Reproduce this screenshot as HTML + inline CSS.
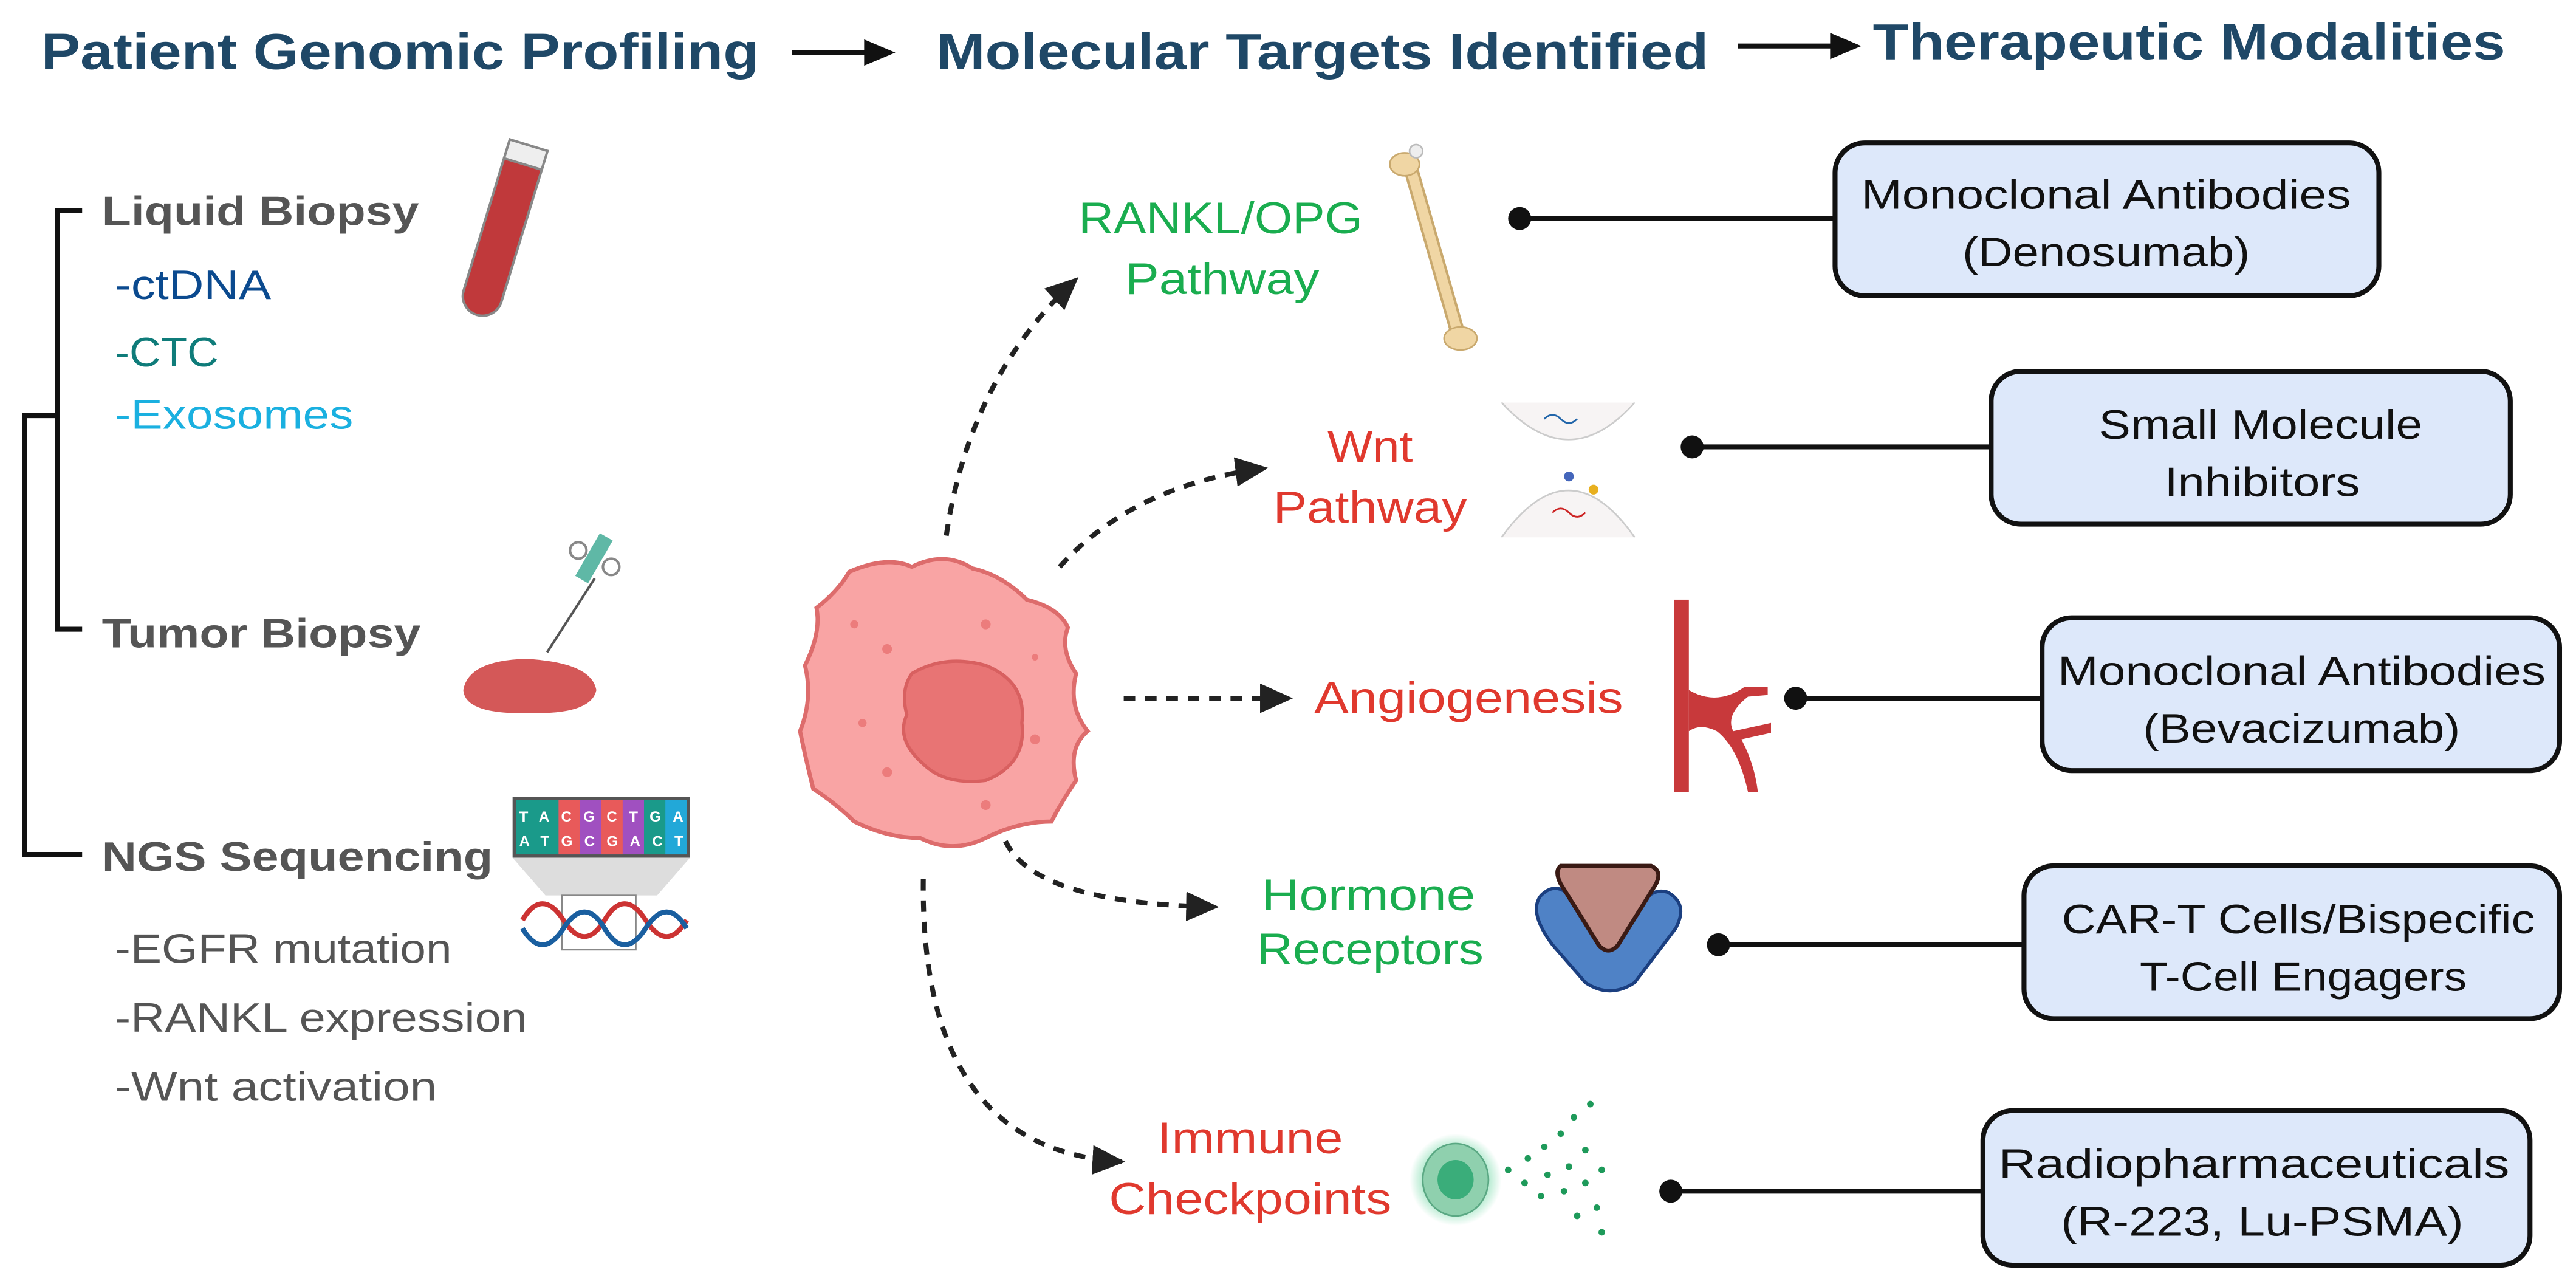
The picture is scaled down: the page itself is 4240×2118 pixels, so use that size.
<!DOCTYPE html>
<html><head><meta charset="utf-8"><style>
html,body{margin:0;padding:0;background:#fff;}
svg{display:block;}
text{font-family:"Liberation Sans",sans-serif;}
</style></head><body>
<svg width="4240" height="2118" viewBox="0 0 1568 783.3" preserveAspectRatio="none" xmlns="http://www.w3.org/2000/svg">
<defs>
<marker id="ah2" markerWidth="20" markerHeight="18" refX="18" refY="9" orient="auto" markerUnits="userSpaceOnUse"><path d="M0,0 L20,9 L0,18 Z" fill="#222"/></marker>
<radialGradient id="glow"><stop offset="0.5" stop-color="#5fd39a" stop-opacity="0.8"/><stop offset="1" stop-color="#5fd39a" stop-opacity="0"/></radialGradient>
</defs>
<!-- titles -->
<g font-weight="bold" font-size="31" fill="#1f4867" lengthAdjust="spacingAndGlyphs">
<text x="25" y="42" textLength="437" lengthAdjust="spacingAndGlyphs">Patient Genomic Profiling</text>
<text x="570" y="42" textLength="470" lengthAdjust="spacingAndGlyphs">Molecular Targets Identified</text>
<text x="1140" y="36" textLength="385" lengthAdjust="spacingAndGlyphs">Therapeutic Modalities</text>
</g>
<line x1="482" y1="32" x2="528" y2="32" stroke="#111" stroke-width="3"/><path d="M526,24 L545,32 L526,40Z" fill="#111"/>
<line x1="1058" y1="28" x2="1116" y2="28" stroke="#111" stroke-width="3"/><path d="M1114,20 L1133,28 L1114,36Z" fill="#111"/>
<!-- bracket -->
<g stroke="#111" stroke-width="3" fill="none">
<path d="M50,128 H35 V383 H50"/>
<path d="M35,253 H15 V520 H50"/>
</g>
<g font-size="25">
<text x="62" y="137" font-weight="bold" fill="#555" textLength="193" lengthAdjust="spacingAndGlyphs">Liquid Biopsy</text>
<text x="70" y="182" fill="#0b4a8f" textLength="95" lengthAdjust="spacingAndGlyphs">-ctDNA</text>
<text x="70" y="223" fill="#0f7c7a" textLength="63" lengthAdjust="spacingAndGlyphs">-CTC</text>
<text x="70" y="261" fill="#1ab0e0" textLength="145" lengthAdjust="spacingAndGlyphs">-Exosomes</text>
<text x="62" y="394" font-weight="bold" fill="#555" textLength="194" lengthAdjust="spacingAndGlyphs">Tumor Biopsy</text>
<text x="62" y="530" font-weight="bold" fill="#555" textLength="238" lengthAdjust="spacingAndGlyphs">NGS Sequencing</text>
<text x="70" y="586" fill="#555" textLength="205" lengthAdjust="spacingAndGlyphs">-EGFR mutation</text>
<text x="70" y="628" fill="#555" textLength="251" lengthAdjust="spacingAndGlyphs">-RANKL expression</text>
<text x="70" y="670" fill="#555" textLength="196" lengthAdjust="spacingAndGlyphs">-Wnt activation</text>
</g>
<!-- tube -->
<g transform="rotate(17 306 140)">
<rect x="294" y="86" width="24" height="108" rx="12" fill="#c0393b" stroke="#888" stroke-width="1.5"/>
<rect x="294" y="86" width="24" height="12" fill="#eee" stroke="#888" stroke-width="1.5"/>
</g>
<!-- syringe + tissue -->
<line x1="333" y1="397" x2="362" y2="352" stroke="#555" stroke-width="1.5"/>
<rect x="357" y="325" width="9" height="30" fill="#5fb8a6" transform="rotate(30 362 340)"/>
<circle cx="352" cy="335" r="5" fill="none" stroke="#888" stroke-width="1.5"/>
<circle cx="372" cy="345" r="5" fill="none" stroke="#888" stroke-width="1.5"/>
<path d="M282,420 Q285,402 320,401 Q360,403 363,420 Q360,435 322,434 Q283,435 282,420Z" fill="#d45858"/>
<!-- DNA -->
<rect x="312" y="485" width="108" height="37" fill="#555"/>
<g font-size="9" fill="#fff" font-weight="bold">
<rect x="314" y="487" width="104" height="33" fill="#1a9a8a"/>
<rect x="340" y="487" width="52" height="33" fill="#a050c0"/>
<rect x="340" y="487" width="13" height="33" fill="#e85a5a"/>
<rect x="366" y="487" width="13" height="33" fill="#e85a5a"/>
<rect x="405" y="487" width="13" height="33" fill="#22a8d8"/>
<text x="316" y="500" textLength="100" lengthAdjust="spacing">TACGCTGA</text><text x="316" y="515" textLength="100" lengthAdjust="spacing">ATGCGACT</text>
</g>
<path d="M312,522 L420,522 L400,545 L332,545Z" fill="#ddd"/>
<rect x="342" y="545" width="45" height="33" fill="none" stroke="#888"/>
<path d="M318,560 q12,-20 25,0 t25,0 t25,0 t25,0" fill="none" stroke="#c33" stroke-width="3"/>
<path d="M318,565 q12,20 25,0 t25,0 t25,0 t25,0" fill="none" stroke="#1a5fa0" stroke-width="3"/>
<!-- cell -->
<path d="M517,348 Q540,338 555,345 Q575,335 592,346 Q610,350 625,365 Q645,370 650,382 Q645,395 655,410 Q650,430 662,445 Q650,455 655,475 Q645,490 640,500 Q620,500 600,510 Q580,520 560,510 Q540,510 520,500 Q510,490 495,480 Q490,460 487,445 Q495,425 490,405 Q500,385 497,370 Q510,360 517,348Z" fill="#f9a4a4" stroke="#dd6c6c" stroke-width="2.5"/>
<path d="M555,410 Q575,398 600,405 Q625,415 622,440 Q625,465 600,475 Q575,478 562,465 Q545,450 552,435 Q548,420 555,410Z" fill="#e87474" stroke="#d86060" stroke-width="2"/>
<g fill="#ec7c7c"><circle cx="520" cy="380" r="2.5"/><circle cx="540" cy="395" r="3"/><circle cx="600" cy="380" r="3"/><circle cx="630" cy="450" r="3"/><circle cx="525" cy="440" r="2.5"/><circle cx="540" cy="470" r="3"/><circle cx="600" cy="490" r="3"/><circle cx="630" cy="400" r="2"/></g>
<!-- dashed arrows -->
<g fill="none" stroke="#222" stroke-width="3" stroke-dasharray="7,6">
<path d="M576,326 Q590,230 655,170" marker-end="url(#ah2)"/>
<path d="M645,345 Q690,295 770,285" marker-end="url(#ah2)"/>
<path d="M684,425 L785,425" marker-end="url(#ah2)"/>
<path d="M612,512 Q630,550 740,552" marker-end="url(#ah2)"/>
<path d="M562,535 Q560,700 683,707" marker-end="url(#ah2)"/>
</g>
<!-- target labels -->
<g font-size="27" text-anchor="middle">
<text x="743" y="142" fill="#1aad4f" textLength="173" lengthAdjust="spacingAndGlyphs">RANKL/OPG</text>
<text x="744" y="179" fill="#1aad4f" textLength="118" lengthAdjust="spacingAndGlyphs">Pathway</text>
<text x="834" y="281" fill="#e0392e" textLength="52" lengthAdjust="spacingAndGlyphs">Wnt</text>
<text x="834" y="318" fill="#e0392e" textLength="118" lengthAdjust="spacingAndGlyphs">Pathway</text>
<text x="894" y="434" fill="#e0392e" textLength="188" lengthAdjust="spacingAndGlyphs">Angiogenesis</text>
<text x="833" y="554" fill="#1aad4f" textLength="130" lengthAdjust="spacingAndGlyphs">Hormone</text>
<text x="834" y="587" fill="#1aad4f" textLength="138" lengthAdjust="spacingAndGlyphs">Receptors</text>
<text x="761" y="702" fill="#e0392e" textLength="113" lengthAdjust="spacingAndGlyphs">Immune</text>
<text x="761" y="739" fill="#e0392e" textLength="172" lengthAdjust="spacingAndGlyphs">Checkpoints</text>
</g>
<!-- bone -->
<line x1="858" y1="100" x2="888" y2="205" stroke="#c9a96e" stroke-width="9" stroke-linecap="round"/>
<line x1="858" y1="100" x2="888" y2="205" stroke="#f0d6a4" stroke-width="6" stroke-linecap="round"/>
<ellipse cx="855" cy="100" rx="9" ry="7" fill="#f0d6a4" stroke="#c9a96e"/>
<circle cx="862" cy="92" r="4" fill="#eee" stroke="#bbb"/>
<ellipse cx="889" cy="206" rx="10" ry="7" fill="#f0d6a4" stroke="#c9a96e"/>
<!-- wnt icon -->
<path d="M914,245 Q955,290 995,245" fill="#f7f4f4" stroke="#ccc"/>
<path d="M914,327 Q955,270 995,327" fill="#f7f4f4" stroke="#ccc"/>
<path d="M940,255 q5,-5 10,0 t10,0" stroke="#2266aa" fill="none"/><path d="M945,312 q5,-5 10,0 t10,0" stroke="#cc2222" fill="none"/>
<circle cx="955" cy="290" r="3" fill="#4466bb"/><circle cx="970" cy="298" r="3" fill="#e8b020"/>
<!-- vessel -->
<rect x="1019" y="365" width="9" height="117" fill="#c8393b"/>
<path d="M1028,420 Q1045,430 1062,418 L1076,418 L1076,423 L1064,424 Q1050,435 1055,445 L1078,440 L1078,446 L1060,450 Q1068,465 1070,482 L1064,482 Q1058,455 1045,445 Q1035,440 1028,445Z" fill="#c8393b"/>
<!-- receptor -->
<path d="M938,545 Q930,555 945,575 L965,598 Q980,608 995,598 L1020,565 Q1028,550 1015,543 Q1005,540 998,552 L985,572 Q980,580 975,572 L958,548 Q948,535 938,545Z" fill="#4f82c6" stroke="#1b3f80" stroke-width="2"/>
<path d="M950,527 L1005,527 Q1012,530 1008,538 L985,575 Q979,582 973,575 L950,538 Q946,530 950,527Z" fill="#c08a82" stroke="#3a1a14" stroke-width="2.5"/>
<!-- immune -->
<circle cx="886" cy="718" r="28" fill="url(#glow)"/>
<ellipse cx="886" cy="718" rx="20" ry="22" fill="#8fd0ae" stroke="#5aa883"/>
<ellipse cx="886" cy="718" rx="11" ry="12" fill="#3aad7a"/>
<g fill="#1e9a5a"><circle cx="918" cy="712" r="2"/><circle cx="930" cy="705" r="2"/><circle cx="940" cy="698" r="2"/><circle cx="950" cy="690" r="2"/><circle cx="928" cy="720" r="2"/><circle cx="942" cy="715" r="2"/><circle cx="955" cy="710" r="2"/><circle cx="965" cy="700" r="2"/><circle cx="938" cy="728" r="2"/><circle cx="952" cy="725" r="2"/><circle cx="965" cy="720" r="2"/><circle cx="975" cy="712" r="2"/><circle cx="960" cy="740" r="2"/><circle cx="972" cy="735" r="2"/><circle cx="958" cy="680" r="2"/><circle cx="968" cy="672" r="2"/><circle cx="975" cy="750" r="2"/></g>
<!-- connectors -->
<g stroke="#111" stroke-width="3">
<line x1="925" y1="133" x2="1117" y2="133"/><line x1="1030" y1="272" x2="1212" y2="272"/>
<line x1="1093" y1="425" x2="1243" y2="425"/><line x1="1046" y1="575" x2="1232" y2="575"/>
<line x1="1017" y1="725" x2="1207" y2="725"/>
</g>
<g fill="#111"><circle cx="925" cy="133" r="7"/><circle cx="1030" cy="272" r="7"/><circle cx="1093" cy="425" r="7"/><circle cx="1046" cy="575" r="7"/><circle cx="1017" cy="725" r="7"/></g>
<!-- boxes -->
<g fill="#dde8fa" stroke="#111" stroke-width="3">
<rect x="1117" y="87" width="331" height="93" rx="18"/>
<rect x="1212" y="226" width="316" height="93" rx="18"/>
<rect x="1243" y="376" width="315" height="93" rx="18"/>
<rect x="1232" y="527" width="326" height="93" rx="18"/>
<rect x="1207" y="676" width="333" height="94" rx="18"/>
</g>
<g font-size="25" fill="#111" text-anchor="middle">
<text x="1282" y="127" textLength="298" lengthAdjust="spacingAndGlyphs">Monoclonal Antibodies</text><text x="1282" y="162" textLength="175" lengthAdjust="spacingAndGlyphs">(Denosumab)</text>
<text x="1376" y="267" textLength="197" lengthAdjust="spacingAndGlyphs">Small Molecule</text><text x="1377" y="302" textLength="119" lengthAdjust="spacingAndGlyphs">Inhibitors</text>
<text x="1401" y="417" textLength="297" lengthAdjust="spacingAndGlyphs">Monoclonal Antibodies</text><text x="1401" y="452" textLength="193" lengthAdjust="spacingAndGlyphs">(Bevacizumab)</text>
<text x="1399" y="568" textLength="288" lengthAdjust="spacingAndGlyphs">CAR-T Cells/Bispecific</text><text x="1402" y="603" textLength="199" lengthAdjust="spacingAndGlyphs">T-Cell Engagers</text>
<text x="1372" y="717" textLength="311" lengthAdjust="spacingAndGlyphs">Radiopharmaceuticals</text><text x="1377" y="752" textLength="245" lengthAdjust="spacingAndGlyphs">(R-223, Lu-PSMA)</text>
</g>
</svg>
</body></html>
